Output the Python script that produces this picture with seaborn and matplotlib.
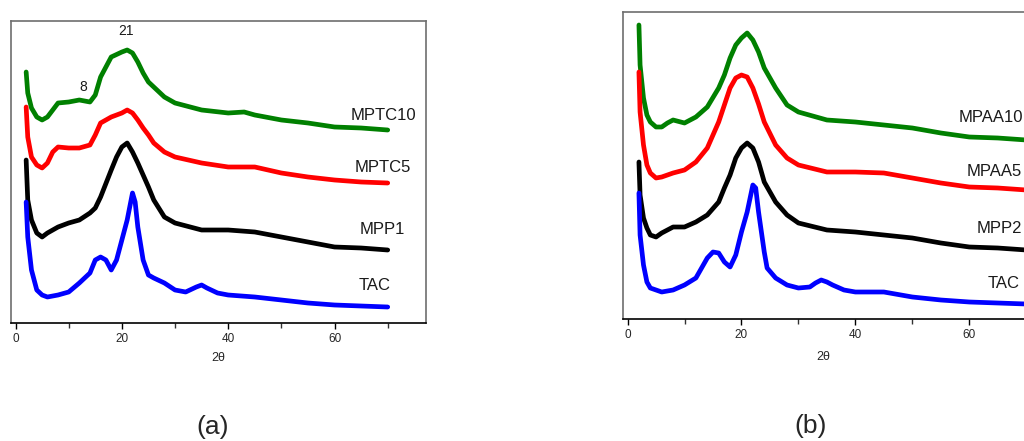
import matplotlib
matplotlib.use("Agg")
import matplotlib.pyplot as plt
import seaborn as sns
import pandas as pd
from matplotlib.ticker import MultipleLocator

sns.set_style("white")
plt.rcParams['font.family'] = ['Liberation Sans', 'DejaVu Sans']

# ---------------- Panel (a) data (2θ, intensity a.u.) ----------------
a_mptc10_x = [2, 2.3, 3, 4, 5, 6, 7, 8, 10, 12, 14, 15, 16, 18, 20, 21, 22, 23, 24, 25, 26, 28, 30, 35, 40, 43, 45, 50, 55, 60, 65, 70]
a_mptc10_y = [251, 230, 215, 206, 203, 206, 213, 220, 221, 223, 221, 228, 246, 266, 271, 273, 270, 261, 250, 241, 236, 226, 220, 213, 210, 211, 208, 203, 200, 196, 195, 193]

a_mptc5_x = [2, 2.3, 3, 4, 5, 6, 7, 8, 10, 12, 14, 15, 16, 18, 20, 21, 22, 23, 24, 25, 26, 28, 30, 35, 40, 45, 50, 55, 60, 65, 70]
a_mptc5_y = [216, 186, 166, 158, 155, 160, 171, 176, 175, 175, 178, 188, 200, 206, 210, 213, 210, 203, 195, 188, 180, 171, 166, 160, 156, 156, 150, 146, 143, 141, 140]

a_mpp1_x = [2, 2.3, 3, 4, 5, 6, 8, 10, 12, 14, 15, 16, 18, 19, 20, 21, 22, 23, 24, 25, 26, 28, 30, 35, 40, 45, 50, 55, 60, 65, 70]
a_mpp1_y = [163, 123, 103, 90, 86, 90, 96, 100, 103, 110, 115, 126, 153, 166, 176, 180, 171, 160, 148, 136, 123, 106, 100, 93, 93, 91, 86, 81, 76, 75, 73]

a_tac_x = [2, 2.3, 3, 4, 5, 6, 8, 10, 12, 14, 15, 16, 17, 18, 19, 20, 21, 22, 22.5, 23, 24, 25, 26, 28, 30, 32, 34, 35, 36, 38, 40, 45, 50, 55, 60, 65, 70]
a_tac_y = [121, 86, 53, 33, 28, 26, 28, 31, 40, 50, 63, 66, 63, 53, 63, 83, 103, 130, 121, 96, 63, 48, 45, 40, 33, 31, 36, 38, 35, 30, 28, 26, 23, 20, 18, 17, 16]

# ---------------- Panel (b) data ----------------
b_mpaa10_x = [2, 2.2, 2.8, 3.4, 4, 5, 6, 7, 8, 10, 12, 14, 16, 17, 18, 19, 20, 21, 22, 23, 24, 26, 28, 30, 35, 40, 45, 50, 55, 60, 65, 70]
b_mpaa10_y = [294, 254, 221, 204, 197, 192, 192, 196, 199, 196, 202, 212, 231, 244, 261, 274, 281, 286, 279, 267, 251, 231, 214, 207, 199, 197, 194, 191, 186, 182, 181, 179]

b_mpaa5_x = [2, 2.2, 2.8, 3.4, 4, 5, 6, 8, 10, 12, 14, 16, 17, 18, 19, 20, 21, 22, 23, 24, 26, 28, 30, 35, 40, 45, 50, 55, 60, 65, 70]
b_mpaa5_y = [247, 207, 174, 154, 146, 141, 142, 146, 149, 157, 171, 197, 214, 231, 241, 244, 242, 231, 215, 197, 174, 161, 154, 147, 147, 146, 141, 136, 132, 131, 129]

b_mpp2_x = [2, 2.2, 2.8, 3.4, 4, 5, 6, 8, 10, 12, 14, 16, 17, 18, 19, 20, 21, 22, 23, 24, 26, 28, 30, 35, 40, 45, 50, 55, 60, 65, 70]
b_mpp2_y = [157, 124, 101, 91, 84, 82, 86, 92, 92, 97, 104, 117, 131, 144, 161, 171, 176, 171, 157, 137, 117, 104, 96, 89, 87, 84, 81, 76, 72, 71, 69]

b_tac_x = [2, 2.2, 2.8, 3.4, 4, 5, 6, 8, 10, 12, 13, 14, 15, 16, 17, 18, 19, 20, 21, 22, 22.5, 23, 24, 24.5, 26, 28, 30, 32, 33, 34, 35, 36, 38, 40, 45, 50, 55, 60, 65, 70]
b_tac_y = [126, 84, 54, 37, 31, 29, 27, 29, 34, 41, 51, 61, 67, 66, 57, 52, 64, 87, 107, 134, 131, 107, 67, 51, 41, 34, 31, 32, 36, 39, 37, 34, 29, 27, 27, 22, 19, 17, 16, 15]

labels_a = ["MPTC10", "MPTC5", "MPP1", "TAC"]
labels_b = ["MPAA10", "MPAA5", "MPP2", "TAC"]
colors = ["#008000", "#ff0000", "#000000", "#0000ff"]
xticks = [0, 20, 40, 60]

# label anchor positions (data coords)
lab_a_pos = [(63.1, 207), (63.8, 156), (64.8, 94), (64.6, 37)]
lab_b_pos = [(58.2, 201), (59.6, 147), (61.2, 90), (63.3, 35)]

W, H = 1024, 441
fig = plt.figure(figsize=(W / 100, H / 100), dpi=100)

ax_a = fig.add_axes([11 / W, 1 - 323 / H, 415 / W, 302 / H])
ax_b = fig.add_axes([622.7 / W, 1 - 319 / H, 444.6 / W, 307 / H])

series_a = [(a_mptc10_x, a_mptc10_y), (a_mptc5_x, a_mptc5_y), (a_mpp1_x, a_mpp1_y), (a_tac_x, a_tac_y)]
series_b = [(b_mpaa10_x, b_mpaa10_y), (b_mpaa5_x, b_mpaa5_y), (b_mpp2_x, b_mpp2_y), (b_tac_x, b_tac_y)]


def draw(ax, series, labels, lab_pos, ylim):
    for (xs, ys), lab, c, (lx, ly) in zip(series, labels, colors, lab_pos):
        df = pd.DataFrame({"x": xs, "y": ys})
        sns.lineplot(data=df, x="x", y="y", ax=ax, color=c, lw=3.4,
                     estimator=None, sort=False,
                     solid_joinstyle="round", solid_capstyle="round")
        ax.text(lx, ly, lab, fontsize=12, ha="left", va="center", color="#1a1a1a")
    ax.set_xlim(-0.85, 77.2)
    ax.set_ylim(*ylim)
    ax.set_yticks([])
    ax.set_xticks(xticks)
    ax.set_xticklabels([str(t) for t in xticks], fontsize=8.5)
    ax.xaxis.set_minor_locator(MultipleLocator(10))
    ax.tick_params(axis="x", which="major", direction="out", length=4, width=1,
                   pad=3, color="black", bottom=True)
    ax.tick_params(axis="x", which="minor", direction="out", length=3.5, width=1,
                   color="#333333", bottom=True)
    ax.set_xlabel("")
    ax.set_ylabel("")
    for s in ["left", "top", "right"]:
        ax.spines[s].set_color("#6e6e6e")
        ax.spines[s].set_linewidth(1.2)
    ax.spines["bottom"].set_color("black")
    ax.spines["bottom"].set_linewidth(1.2)


draw(ax_a, series_a, labels_a, lab_a_pos, (0, 302))
draw(ax_b, series_b, labels_b, lab_b_pos, (0, 307))

# peak annotations on panel (a)
ax_a.text(20.7, 292, "21", fontsize=10, ha="center", va="center", color="#1a1a1a")
ax_a.text(12.8, 236, "8", fontsize=10, ha="center", va="center", color="#1a1a1a")

fig.text(218.7 / W, 1 - 358 / H, "2θ", fontsize=9, ha="center", va="center")
fig.text(823.3 / W, 1 - 357 / H, "2θ", fontsize=9, ha="center", va="center")
fig.text(213 / W, 1 - 427 / H, "(a)", fontsize=19, ha="center", va="center")
fig.text(811 / W, 1 - 426 / H, "(b)", fontsize=19, ha="center", va="center")

fig.savefig("out.png", dpi=100)
